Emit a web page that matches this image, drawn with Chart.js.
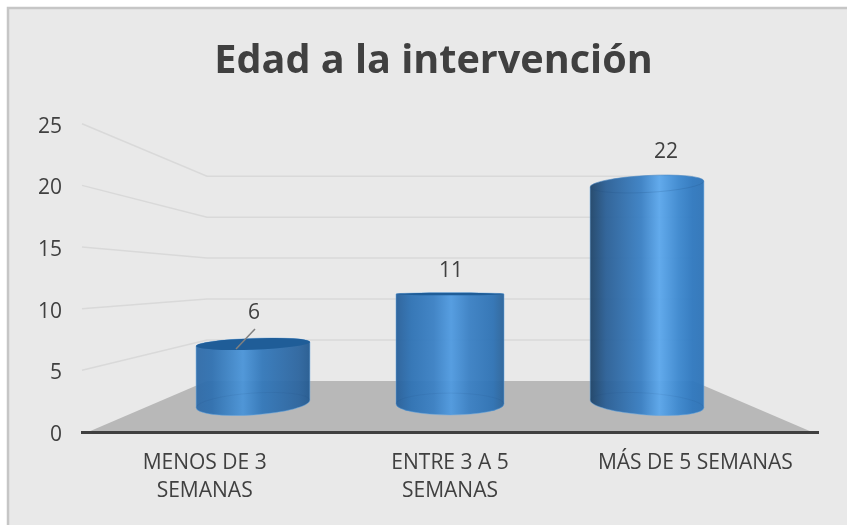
<!DOCTYPE html>
<html>
<head>
<meta charset="utf-8">
<title>Edad a la intervención</title>
<script src="https://cdn.jsdelivr.net/npm/chart.js@4"></script>
<style>
  html, body { margin: 0; padding: 0; background: #fff; }
  #wrap { width: 847px; height: 525px; }
</style>
</head>
<body>
<div id="wrap"><canvas id="my-chart" width="847" height="525"></canvas></div>
<script>
const categories = [['MENOS DE 3', 'SEMANAS'], ['ENTRE 3 A 5', 'SEMANAS'], 'MÁS DE 5 SEMANAS'];
const values = [6, 11, 22];
const gridValues = [5, 10, 15, 20, 25];
const chartTitle = 'Edad a la intervención';

const textColor = '#404040';
const tickFont = { family: '"Open Sans"', size: 21, lineHeight: 1.33 };
// where each value label sits, relative to the top of its cylinder
const labelOffsets = [[1, -31], [1, -23], [19, -32]];
const eyeY = 280;
const centerX = 450;

function mix(a, b, t) {
  const pa = [1, 3, 5].map(i => parseInt(a.substr(i, 2), 16));
  const pb = [1, 3, 5].map(i => parseInt(b.substr(i, 2), 16));
  return 'rgb(' + pa.map((c, i) => Math.round(c + (pb[i] - c) * t)).join(',') + ')';
}

// pick a colour along left / centre / right cylinder position
function shade(t, left, mid, right) {
  return t < 0 ? mix(mid, left, -t) : mix(mid, right, t);
}

// frame, back wall gridlines and the grey floor
const roomPlugin = {
  id: 'room',
  beforeDraw(chart) {
    const { ctx, chartArea, scales } = chart;
    const wallL = 207, wallR = 693;
    ctx.save();
    ctx.fillStyle = '#e9e9e9';
    ctx.fillRect(8, 8, 839, 517);
    ctx.strokeStyle = '#c6c6c6';
    ctx.lineWidth = 2.5;
    ctx.strokeRect(8, 8, 845, 525);

    ctx.fillStyle = '#b8b8b8';
    ctx.beginPath();
    ctx.moveTo(chartArea.left + 6, scales.y.getPixelForValue(0));
    ctx.lineTo(wallL, scales.back.getPixelForValue(0));
    ctx.lineTo(wallR, scales.back.getPixelForValue(0));
    ctx.lineTo(chartArea.right - 6, scales.y.getPixelForValue(0));
    ctx.closePath();
    ctx.fill();

    ctx.strokeStyle = '#d9d9d9';
    ctx.lineWidth = 1.5;
    gridValues.forEach(v => {
      ctx.beginPath();
      ctx.moveTo(chartArea.left, scales.y.getPixelForValue(v));
      ctx.lineTo(wallL, scales.back.getPixelForValue(v));
      ctx.lineTo(wallR, scales.back.getPixelForValue(v));
      ctx.stroke();
    });
    ctx.restore();
  }
};

// draws each hidden bar as a cylinder, with its value above it
const cylinderPlugin = {
  id: 'cylinder',
  afterDatasetsDraw(chart) {
    const ctx = chart.ctx;
    chart.getDatasetMeta(0).data.forEach((bar, i) => {
      const dx = bar.x - centerX;
      const t = dx / 197;
      const rx = bar.width / 2 * (1 + Math.abs(dx) * 0.00028);
      const topY = bar.y, botY = bar.base;
      const ryOf = y => Math.max(1.2, Math.abs(y - eyeY) * 0.088);
      const rotOf = y => dx * (y - eyeY) * 1.6e-4 * Math.PI / 180;
      const rotT = rotOf(topY), rotB = rotOf(botY);
      const p = 0.51 + dx * 0.0005;

      const g = ctx.createLinearGradient(bar.x - rx, 0, bar.x + rx, 0);
      const mid = '#2e72b4';
      g.addColorStop(0, shade(t, '#2f6ba8', '#28609a', '#1f4468'));
      g.addColorStop(0.14, shade(t, '#2f70b0', mid, '#2a5f96'));
      g.addColorStop(p - 0.16, shade(t, '#3a7fc0', '#3a80c4', '#3a80c4'));
      g.addColorStop(p, shade(t, '#4a94d8', '#4f9ae0', '#5ba7ec'));
      g.addColorStop(p + 0.17, shade(t, '#3378ba', '#3a80c4', '#3c88cf'));
      g.addColorStop(0.9, shade(t, '#2c659f', mid, '#2f78bf'));
      g.addColorStop(1, shade(t, '#245a90', '#2b6399', '#2e74b8'));

      ctx.save();
      ctx.globalAlpha = 0.95;
      ctx.fillStyle = g;
      ctx.beginPath();
      ctx.ellipse(bar.x, topY, rx, ryOf(topY), rotT, Math.PI, Math.PI * 2);
      ctx.ellipse(bar.x, botY, rx, ryOf(botY), rotB, 0, Math.PI);
      ctx.closePath();
      ctx.fill();
      ctx.globalAlpha = 1;
      ctx.strokeStyle = 'rgba(100,165,225,0.5)';
      ctx.lineWidth = 1;
      ctx.stroke();

      // base ring, faint through the body
      ctx.beginPath();
      ctx.ellipse(bar.x, botY, rx, ryOf(botY), rotB, Math.PI, Math.PI * 2);
      ctx.strokeStyle = 'rgba(25,70,120,0.1)';
      ctx.stroke();

      // top face
      ctx.beginPath();
      ctx.ellipse(bar.x, topY, rx, ryOf(topY), rotT, 0, Math.PI * 2);
      if (topY >= eyeY) {
        ctx.fillStyle = '#1f5d98';
        ctx.fill();
      } else {
        ctx.strokeStyle = 'rgba(25,70,120,0.18)';
        ctx.stroke();
      }
      ctx.restore();

      // value label
      ctx.save();
      ctx.fillStyle = textColor;
      ctx.font = tickFont.size + 'px ' + tickFont.family;
      ctx.textAlign = 'center';
      ctx.textBaseline = 'middle';
      ctx.fillText(values[i], bar.x + labelOffsets[i][0], topY + labelOffsets[i][1]);
      if (i === 0) {
        // leader line of the first label
        ctx.strokeStyle = '#808080';
        ctx.lineWidth = 1.5;
        ctx.beginPath();
        ctx.moveTo(bar.x + 2, topY - 15);
        ctx.lineTo(bar.x - 17, topY + 5);
        ctx.stroke();
      }
      ctx.restore();
    });
  }
};

const ctx = document.getElementById('my-chart').getContext('2d');
const chart = new Chart(ctx, {
  type: 'bar',
  data: {
    datasets: [{
      data: values.map((v, i) => ({ x: i, y: v })),
      xAxisID: 'depthX',
      yAxisID: 'depthY',
      backgroundColor: 'transparent',
      barThickness: 108
    }]
  },
  plugins: [roomPlugin, cylinderPlugin],
  options: {
    responsive: false,
    animation: false,
    layout: { padding: { left: 30, right: 10, top: 0, bottom: 0 } },
    plugins: {
      legend: { display: false },
      tooltip: { enabled: false },
      title: {
        display: true,
        text: chartTitle,
        color: textColor,
        font: { family: '"Open Sans"', size: 39.6, weight: 'bold', lineHeight: 1.2 },
        padding: { top: 38, bottom: 38.2 }
      }
    },
    scales: {
      x: {
        type: 'category',
        labels: categories,
        offset: true,
        grid: { display: false, drawTicks: false },
        border: { color: textColor, width: 3 },
        ticks: { color: textColor, font: tickFont, padding: 17, maxRotation: 0, autoSkip: false },
        afterFit(scale) { scale.height = 93; }
      },
      y: {
        type: 'linear',
        min: 0,
        max: 25,
        grid: { display: false, drawTicks: false },
        border: { display: false },
        ticks: { color: textColor, font: tickFont, stepSize: 5, padding: 20, labelOffset: 3 },
        afterFit(scale) { scale.width = 52; }
      },
      // hidden scales for the planes further back in the 3D picture
      back: {
        type: 'linear',
        position: 'right',
        min: -6.22,
        max: 31.4,
        grid: { display: false, drawTicks: false },
        border: { display: false },
        ticks: { display: false },
        afterFit(scale) { scale.width = 19; }
      },
      depthY: { type: 'linear', display: false, position: 'right', min: -2.8, max: 28.03 },
      depthX: { type: 'linear', display: false, position: 'top', offset: false, min: -0.868, max: 2.868 }
    }
  }
});
</script>
</body>
</html>
